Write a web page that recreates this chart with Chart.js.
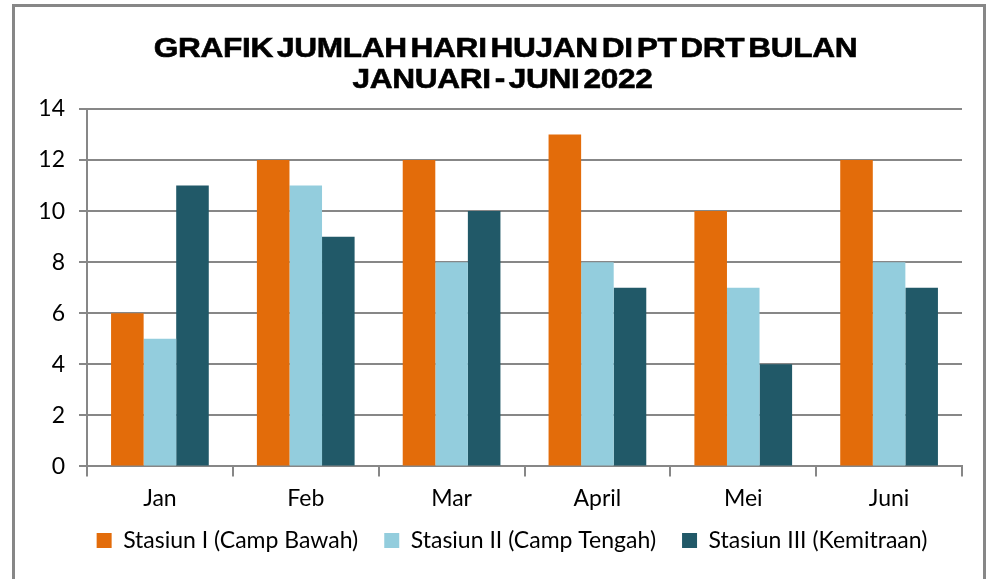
<!DOCTYPE html>
<html><head><meta charset="utf-8">
<script src="https://cdn.jsdelivr.net/npm/chart.js@4"></script>
<style>
html,body{margin:0;padding:0;background:#fff;overflow:hidden}
#wrap{position:absolute;left:0;top:0;width:997px;height:579px}
#frame{position:absolute;left:12px;top:4px;width:974px;height:600px;border:3px solid #878787;box-sizing:border-box}
canvas{position:absolute;left:0;top:0}
</style></head>
<body><div id="wrap"><div id="frame"></div><canvas id="c" width="997" height="579"></canvas></div>
<script>
const categories = ["Jan","Feb","Mar","April","Mei","Juni"];
const seriesNames = ["Stasiun I (Camp Bawah)","Stasiun II (Camp Tengah)","Stasiun III (Kemitraan)"];
const stasiun1 = [6,12,12,13,10,12];
const stasiun2 = [5,11,8,8,7,8];
const stasiun3 = [11,9,10,7,4,7];
const yTicks = [0,2,4,6,8,10,12,14];
const titleLines = ["GRAFIK JUMLAH HARI HUJAN DI PT DRT BULAN","JANUARI - JUNI 2022"];
const colors = ["#E36C0A","#93CDDD","#215968"];
const grid = "#878787";
const tickFont = {family:"Lato", size:23};

const titlePlugin = {
  id:'stretchedTitle',
  afterLayout(chart){
    // widen label clip areas so tick labels are not cut
    chart.scales.y.left = 0;
    chart.scales.x.bottom = chart.height;
  },
  afterDraw(chart){
    const ctx = chart.ctx;
    ctx.save();
    ctx.font = "bold 28px 'Liberation Sans'";
    ctx.fillStyle = "#000";
    ctx.strokeStyle = "#000";
    ctx.lineWidth = 0.6;
    ctx.textAlign = "center";
    ctx.textBaseline = "alphabetic";
    try { ctx.wordSpacing = "-4px"; ctx.letterSpacing = "-0.3px"; } catch(e){}
    const sx = 1.13;
    const baselines = [57, 88];
    const centers = [505.5, 502.5];
    titleLines.forEach((t,i)=>{
      ctx.save();
      ctx.translate(centers[i], baselines[i]);
      ctx.scale(sx,1);
      ctx.fillText(t, 0, 0);
      ctx.strokeText(t, 0, 0);
      ctx.restore();
    });
    ctx.restore();
  }
};

new Chart(document.getElementById('c'), {
  type:'bar',
  data:{labels:categories, datasets:[
    {label:seriesNames[0], data:stasiun1, backgroundColor:colors[0]},
    {label:seriesNames[1], data:stasiun2, backgroundColor:colors[1]},
    {label:seriesNames[2], data:stasiun3, backgroundColor:colors[2]}
  ]},
  plugins:[titlePlugin],
  options:{
    responsive:false, animation:false,
    datasets:{bar:{categoryPercentage:0.67, barPercentage:1.0}},
    layout:{padding:{left:62,right:35,top:109,bottom:17}},
    plugins:{
      title:{display:false},
      legend:{position:'bottom', labels:{boxWidth:15, boxHeight:15, color:'#000', font:tickFont, padding:26}},
      tooltip:{enabled:false}
    },
    scales:{
      x:{grid:{offset:true, drawOnChartArea:false, color:grid, lineWidth:2, tickLength:10},
         border:{color:grid, width:2},
         afterFit:(s)=>{s.height -= 17;},
         ticks:{color:'#000', font:tickFont, padding:8}},
      y:{min:0,max:14, afterBuildTicks:(s)=>{s.ticks=yTicks.map(v=>({value:v}));},
         afterFit:(s)=>{s.width=25;},
         grid:{color:grid, lineWidth:2, tickLength:8},
         border:{color:grid, width:2},
         ticks:{color:'#000', font:tickFont, padding:14}}
    }
  }
});
</script></body></html>
